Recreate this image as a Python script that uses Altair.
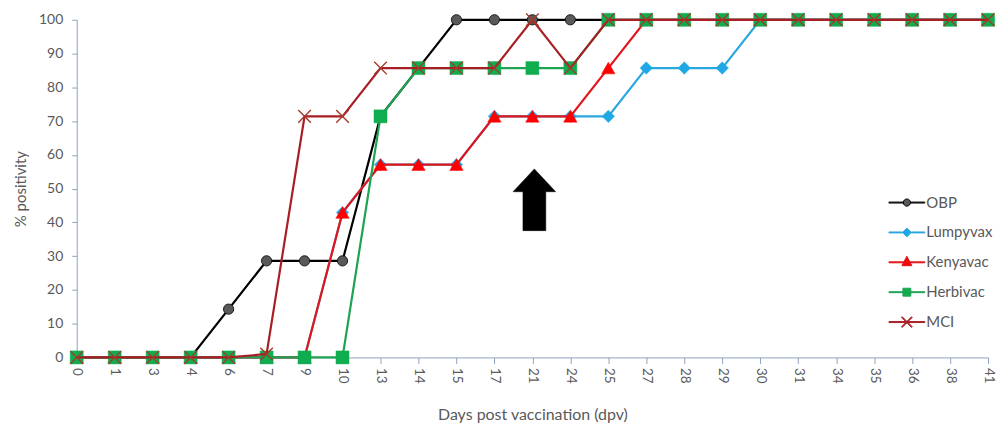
import altair as alt
import pandas as pd

# ---------------- data ----------------
days = ["0", "1", "3", "4", "6", "7", "9", "10", "13", "14", "15", "17", "21",
        "24", "25", "27", "28", "29", "30", "31", "34", "35", "36", "38", "41"]
series_names = ["OBP", "Lumpyvax", "Kenyavac", "Herbivac", "MCI"]

obp = [0, 0, 0, 0, 14.3, 28.6, 28.6, 28.6, 71.4, 85.7, 100, 100, 100,
       100, 100, 100, 100, 100, 100, 100, 100, 100, 100, 100, 100]
lumpyvax = [0, 0, 0, 0, 0, 0, 0, 42.9, 57.1, 57.1, 57.1, 71.4, 71.4,
            71.4, 71.4, 85.7, 85.7, 85.7, 100, 100, 100, 100, 100, 100, 100]
kenyavac = [0, 0, 0, 0, 0, 0, 0, 42.9, 57.1, 57.1, 57.1, 71.4, 71.4,
            71.4, 85.7, 100, 100, 100, 100, 100, 100, 100, 100, 100, 100]
herbivac = [0, 0, 0, 0, 0, 0, 0, 0, 71.4, 85.7, 85.7, 85.7, 85.7,
            85.7, 100, 100, 100, 100, 100, 100, 100, 100, 100, 100, 100]
mci = [0, 0, 0, 0, 0, 1, 71.4, 71.4, 85.7, 85.7, 85.7, 85.7, 100,
       85.7, 100, 100, 100, 100, 100, 100, 100, 100, 100, 100, 100]

arrow_day = ["21"]
arrow_level = [46.7]

values_by_series = {"OBP": obp, "Lumpyvax": lumpyvax, "Kenyavac": kenyavac,
                    "Herbivac": herbivac, "MCI": mci}

rows = []
for s in series_names:
    for d, v in zip(days, values_by_series[s]):
        rows.append({"day": d, "series": s, "value": v})
df = pd.DataFrame(rows)
arrow_df = pd.DataFrame({"day": arrow_day, "value": arrow_level})

# ---------------- styles ----------------
TEXT = "#595959"
AXIS = "#8DA3BB"
FONT = "Lato"

X_PATH = "M-1,-1L1,1M-1,1L1,-1"
styles = {
    "OBP":      dict(line="#000000", fill="#595959", stroke="#1a1a1a", shape="circle", size=105, filled=True, sw=1),
    "Lumpyvax": dict(line="#2AA7DF", fill="#1EA8E6", stroke="#1EA8E6", shape="diamond", size=155, filled=True, sw=0.5),
    "Kenyavac": dict(line="#E3151B", fill="#FF0000", stroke="#FF0000", shape="triangle-up", size=180, filled=True, sw=0.5),
    "Herbivac": dict(line="#1EA352", fill="#10AD50", stroke="#10AD50", shape="square", size=170, filled=True, sw=0.5),
    "MCI":      dict(line="#A81E24", fill="#A33A2A", stroke="#A33A2A", shape=X_PATH, size=160, filled=False, sw=1.4),
}

t = 0.04
def seg(x0, x1):
    return f"M{x0},{-t} L{x1},{-t} L{x1},{t} L{x0},{t} Z "

legend_paths = [
    seg(-1.5, -0.3) + seg(0.3, 1.5) + "M-0.3,0 A0.3,0.3 0 1,1 0.3,0 A0.3,0.3 0 1,1 -0.3,0 Z",
    seg(-1.5, -0.37) + seg(0.37, 1.5) + "M-0.37,0 L0,-0.37 L0.37,0 L0,0.37 Z",
    seg(-1.5, 1.5) + "M0,-0.5 L0.42,0.28 L-0.42,0.28 Z",
    seg(-1.5, 1.5) + "M-0.33,-0.33 L0.33,-0.33 L0.33,0.33 L-0.33,0.33 Z",
    seg(-1.5, 1.5) + "M-0.392,-0.448 L0.448,0.392 L0.392,0.448 L-0.448,-0.392 Z "
                     "M0.448,-0.392 L-0.392,0.448 L-0.448,0.392 L0.392,-0.448 Z",
]

ARROW_PATH = "M0,-1 L0.69,-0.26 L0.37,-0.26 L0.37,1 L-0.37,1 L-0.37,-0.26 L-0.69,-0.26 Z"

# ---------------- encodings ----------------
x_enc = alt.X("day:O", scale=alt.Scale(domain=days, padding=0),
              axis=alt.Axis(title="Days post vaccination (dpv)", labelAngle=90,
                            grid=False, tickSize=6, labelPadding=4,
                            labelFont=FONT, labelFontSize=13.5, labelColor=TEXT,
                            titleFont=FONT, titleFontSize=16, titleFontWeight="normal",
                            titleColor=TEXT, titlePadding=24,
                            domainColor=AXIS, tickColor=AXIS))
y_enc = alt.Y("value:Q", scale=alt.Scale(domain=[0, 100], nice=False),
              axis=alt.Axis(title="% positivity", values=list(range(0, 101, 10)),
                            grid=False, tickSize=5, labelPadding=9,
                            labelFont=FONT, labelFontSize=14, labelColor=TEXT,
                            titleFont=FONT, titleFontSize=15, titleFontWeight="normal",
                            titleColor=TEXT, titlePadding=10,
                            domainColor=AXIS, tickColor=AXIS))

base = alt.Chart(df)
layers = []
for s in series_names:
    st = styles[s]
    sub = base.transform_filter(alt.datum.series == s)
    layers.append(sub.mark_line(color=st["line"], strokeWidth=2.2).encode(x=x_enc, y=y_enc))
    pt_kwargs = dict(shape=st["shape"], size=st["size"], filled=st["filled"],
                     stroke=st["stroke"], strokeWidth=st["sw"], opacity=1)
    if st["filled"]:
        pt_kwargs["fill"] = st["fill"]
    layers.append(sub.mark_point(**pt_kwargs).encode(x=x_enc, y=y_enc))

leg = alt.Legend(title=None, orient="none", legendX=821, legendY=171,
                 labelFont=FONT, labelFontSize=15, labelColor=TEXT,
                 symbolSize=576, symbolStrokeWidth=1, labelOffset=7,
                 rowPadding=9, padding=0, symbolOffset=0)
legend_layer = base.transform_filter("false").mark_point(filled=True, opacity=1).encode(
    x=x_enc, y=y_enc,
    shape=alt.Shape("series:N", scale=alt.Scale(domain=series_names, range=legend_paths), legend=leg),
    fill=alt.Fill("series:N", scale=alt.Scale(domain=series_names,
                  range=[styles[s]["fill"] for s in series_names]), legend=leg),
    stroke=alt.Stroke("series:N", scale=alt.Scale(domain=series_names,
                      range=[styles[s]["line"] for s in series_names]), legend=leg),
)

arrow = alt.Chart(arrow_df).mark_point(shape=ARROW_PATH, size=3844, filled=True,
                                       fill="#000000", stroke="#000000", strokeWidth=0.5,
                                       opacity=1, xOffset=2).encode(x=x_enc, y=y_enc)

chart = alt.layer(*layers, legend_layer, arrow).properties(
    width=915, height=339,
    padding={"left": 5, "top": 1, "right": 0, "bottom": 0},
).configure_view(stroke=None)

chart.save("out.html", embed_options={"renderer": "svg", "actions": False})
